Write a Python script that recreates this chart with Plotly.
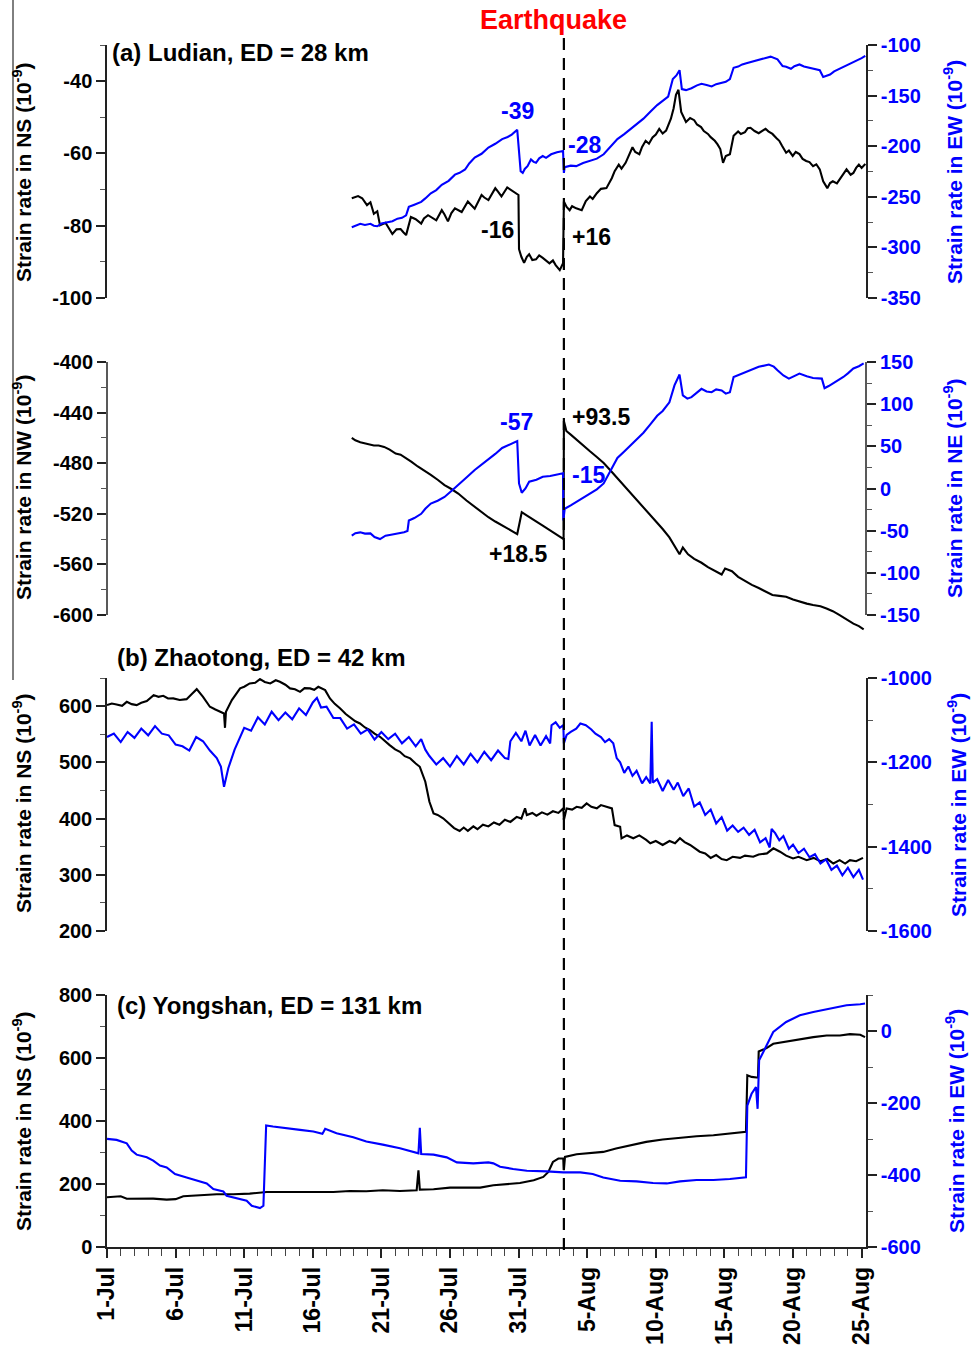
import pandas as pd
import plotly.graph_objects as go

BASE = pd.Timestamp("2014-07-01")
QUAKE_DAY = 33.3          # days after 1-Jul (3-Aug)
X_END_DAY = 55.32

# ---- tick labels ----
a1_left_ticks = [-100, -80, -60, -40]
a1_right_ticks = [-350, -300, -250, -200, -150, -100]
a2_left_ticks = [-600, -560, -520, -480, -440, -400]
a2_right_ticks = [-150, -100, -50, 0, 50, 100, 150]
b_left_ticks = [200, 300, 400, 500, 600]
b_right_ticks = [-1600, -1400, -1200, -1000]
c_left_ticks = [0, 200, 400, 600, 800]
c_right_ticks = [-600, -400, -200, 0]

# ---- data: (days after 1-Jul, strain rate) ----
ludian_ns = [(17.84,-72.4),(18.3,-71.8),(18.6,-72.4),(18.95,-74.3),(19.2,-73.5),(19.45,-76.7),(19.7,-76.0),(19.9,-79.9),
    (20.3,-79.2),(20.8,-82.3),(21.1,-81.0),(21.4,-80.9),(21.6,-81.8),(21.8,-82.6),(22.15,-77.6),(22.5,-78.2),(22.9,-79.4),
    (23.1,-78.0),(23.4,-77.1),(23.7,-77.8),(24.0,-78.5),(24.4,-75.7),(24.6,-76.9),(24.85,-78.8),(25.1,-76.5),(25.36,-75.2),
    (25.6,-75.8),(25.85,-76.2),(26.3,-73.3),(26.5,-74.1),(26.8,-75.3),(27.3,-71.5),(27.5,-72.2),(27.8,-72.9),(28.3,-69.6),
    (28.5,-70.6),(28.75,-71.9),(29.17,-69.4),(29.4,-70.0),(29.66,-70.6),(29.99,-71.5),(30.03,-86.5),(30.2,-88.6),(30.4,-90.3),
    (30.6,-88.6),(30.77,-87.9),(31.0,-89.5),(31.27,-89.3),(31.5,-88.2),(31.76,-88.9),(32.0,-89.6),(32.25,-90.4),(32.5,-89.6),
    (32.7,-90.9),(33.0,-92.3),(33.24,-90.4),(33.3,-73.3),(33.5,-74.8),(33.72,-75.7),(33.9,-74.6),(34.2,-75.2),(34.6,-75.7),
    (34.9,-73.2),(35.2,-71.9),(35.4,-72.6),(35.7,-71.0),(36.0,-69.8),(36.4,-69.6),(36.8,-66.8),(37.0,-64.9),(37.3,-63.1),
    (37.5,-64.2),(37.8,-62.6),(38.0,-61.0),(38.3,-58.3),(38.5,-59.6),(38.8,-60.2),(39.0,-58.2),(39.26,-56.5),(39.5,-57.3),
    (39.76,-55.6),(40.0,-54.8),(40.25,-53.2),(40.5,-54.5),(40.75,-53.7),(41.1,-50.4),(41.3,-47.5),(41.47,-43.8),
    (41.65,-42.4),(41.85,-48.5),(42.0,-49.8),(42.2,-51.3),(42.5,-50.2),(42.8,-50.8),(43.0,-52.0),(43.3,-52.7),(43.5,-53.8),
    (43.8,-54.6),(44.0,-55.5),(44.3,-56.5),(44.5,-57.5),(44.7,-58.8),(44.9,-62.6),(45.1,-60.7),(45.4,-60.2),(45.67,-55.1),
    (46.0,-53.9),(46.2,-54.6),(46.5,-54.1),(46.7,-53.0),(46.9,-52.9),(47.2,-53.8),(47.5,-54.4),(47.8,-53.6),(48.0,-53.2),
    (48.2,-53.9),(48.5,-54.6),(48.8,-55.8),(49.0,-56.5),(49.2,-57.9),(49.5,-59.8),(49.7,-59.2),(49.98,-60.7),(50.2,-59.6),
    (50.47,-60.2),(50.7,-61.5),(50.96,-62.1),(51.2,-62.4),(51.46,-63.5),(51.7,-63.0),(51.95,-64.4),(52.2,-67.7),(52.5,-69.6),
    (52.7,-68.2),(52.9,-67.7),(53.2,-68.3),(53.4,-67.3),(53.7,-65.5),(53.9,-64.4),(54.2,-65.9),(54.4,-65.4),(54.6,-64.0),
    (54.8,-63.1),(55.0,-64.0),(55.27,-62.9)]

ludian_ew = [(17.84,-280.1),(18.1,-278.5),(18.46,-276.7),(18.8,-277.8),(19.2,-276.7),(19.45,-278.6),(19.7,-279.1),
    (20.0,-276.4),(20.4,-275.0),(20.8,-274.1),(21.17,-271.6),(21.5,-270.8),(21.8,-268.4),(22.0,-259.9),(22.4,-257.8),
    (22.9,-255.0),(23.2,-251.6),(23.6,-246.5),(24.0,-243.4),(24.4,-238.2),(24.9,-234.2),(25.36,-228.1),(25.7,-226.3),
    (26.1,-223.0),(26.4,-217.1),(26.8,-211.3),(27.3,-207.5),(27.8,-201.3),(28.3,-197.6),(28.8,-193.0),(29.2,-190.9),
    (29.5,-188.6),(29.9,-183.8),(30.15,-224.8),(30.3,-226.4),(30.45,-222.5),(30.65,-219.7),(30.9,-213.1),(31.1,-215.5),
    (31.27,-216.4),(31.5,-212.0),(31.76,-209.7),(32.0,-211.5),(32.37,-208.0),(32.8,-206.0),(33.24,-204.7),(33.3,-226.4),
    (33.36,-220.7),(33.8,-219.2),(34.2,-219.7),(34.7,-216.6),(35.2,-214.7),(35.7,-212.3),(36.2,-208.0),(36.7,-200.5),
    (37.2,-193.0),(37.7,-188.1),(38.2,-182.8),(38.6,-178.2),(39.1,-172.8),(39.6,-166.0),(40.1,-159.4),(40.5,-155.2),
    (40.9,-151.0),(41.24,-133.6),(41.5,-130.1),(41.73,-124.9),(41.9,-143.6),(42.2,-144.6),(42.6,-142.7),(43.0,-139.9),
    (43.33,-138.3),(43.7,-139.5),(44.07,-141.0),(44.4,-138.7),(44.8,-137.6),(45.1,-136.4),(45.4,-133.6),(45.67,-122.5),
    (46.0,-121.3),(46.3,-119.2),(46.6,-118.0),(46.9,-116.9),(47.2,-115.8),(47.6,-114.2),(48.0,-112.7),(48.37,-111.5),
    (48.87,-114.2),(49.05,-117.5),(49.24,-120.9),(49.5,-121.5),(49.85,-123.5),(50.1,-121.0),(50.47,-119.2),
    (50.8,-121.3),(51.2,-122.5),(51.6,-123.3),(51.95,-124.9),(52.2,-131.6),(52.4,-130.4),(52.7,-129.2),(53.0,-126.0),
    (53.4,-123.5),(53.8,-120.4),(54.16,-118.2),(54.4,-116.8),(54.65,-115.9),(55.0,-113.0),(55.27,-110.8)]

ludian_nw = [(17.84,-459.9),(18.1,-461.9),(18.46,-463.4),(18.9,-464.8),(19.45,-466.0),(19.8,-466.0),(20.2,-467.1),
    (20.6,-469.3),(21.04,-472.4),(21.4,-473.3),(21.8,-475.9),(22.2,-479.0),(22.65,-482.6),(23.1,-485.6),(23.6,-489.2),
    (24.1,-493.1),(24.6,-497.3),(25.1,-500.4),(25.6,-504.0),(26.2,-509.5),(26.8,-514.6),(27.3,-518.8),(27.8,-522.7),
    (28.3,-526.1),(28.8,-529.3),(29.4,-532.8),(29.9,-536.0),(30.03,-529.3),(30.23,-518.7),(30.5,-520.6),(30.77,-522.7),
    (31.3,-526.2),(31.76,-529.3),(32.3,-533.0),(32.74,-536.0),(33.28,-540.0),(33.3,-446.6),(33.48,-454.5),(33.8,-457.4),
    (34.2,-461.3),(34.7,-465.8),(35.2,-470.6),(35.7,-475.1),(36.2,-479.9),(36.7,-485.8),(37.2,-491.9),(37.7,-498.0),
    (38.2,-504.0),(38.6,-509.0),(39.1,-514.6),(39.6,-520.4),(40.1,-526.6),(40.5,-532.0),(40.99,-538.7),(41.4,-545.6),
    (41.73,-552.0),(41.97,-546.7),(42.35,-552.0),(42.8,-555.6),(43.33,-558.7),(43.8,-562.2),(44.3,-565.4),(44.8,-568.0),
    (45.05,-563.2),(45.55,-565.4),(46.0,-569.8),(46.53,-573.4),(47.0,-576.2),(47.5,-578.7),(48.0,-581.7),(48.5,-584.2),
    (49.0,-584.9),(49.5,-585.5),(50.0,-587.8),(50.47,-589.4),(51.0,-591.0),(51.46,-592.1),(52.0,-593.0),(52.44,-594.8),
    (52.9,-597.0),(53.4,-600.1),(53.9,-603.6),(54.4,-606.8),(54.8,-608.8),(55.15,-611.3)]

ludian_ne = [(17.84,-56.0),(18.1,-53.0),(18.46,-52.0),(18.8,-53.5),(19.2,-53.2),(19.5,-57.5),(19.9,-60.0),(20.3,-56.0),
    (20.7,-54.8),(21.2,-53.5),(21.65,-52.0),(21.9,-50.5),(22.0,-38.0),(22.4,-35.0),(22.9,-30.0),(23.2,-24.0),(23.6,-17.9),
    (24.1,-14.5),(24.6,-10.0),(25.1,-3.0),(25.6,4.0),(26.2,13.0),(26.8,22.0),(27.3,28.0),(27.8,34.1),(28.3,41.0),
    (28.8,48.1),(29.4,52.0),(29.9,56.2),(30.03,6.0),(30.23,-5.1),(30.5,0.1),(30.77,8.0),(31.3,10.5),(31.76,14.0),
    (32.3,14.8),(32.74,16.0),(33.24,18.1),(33.26,-38.0),(33.36,-24.0),(33.8,-20.0),(34.2,-16.0),(34.7,-11.5),(35.2,-6.0),
    (35.7,-1.0),(36.2,6.0),(36.7,22.0),(37.2,36.2),(37.7,44.0),(38.2,52.2),(38.6,58.0),(39.1,66.2),(39.6,76.0),
    (40.1,86.2),(40.5,92.0),(40.99,102.2),(41.36,122.3),(41.73,135.1),(41.97,110.3),(42.3,106.5),(42.6,108.3),
    (43.0,113.5),(43.33,118.2),(43.7,115.0),(44.07,114.2),(44.4,117.5),(44.8,116.2),(45.1,112.5),(45.4,114.2),
    (45.67,132.2),(46.1,135.0),(46.53,138.3),(47.0,140.5),(47.5,144.3),(48.24,147.0),(48.6,144.5),(48.87,140.3),
    (49.3,134.0),(49.7,130.3),(50.1,133.5),(50.47,136.2),(51.0,133.0),(51.46,131.0),(52.1,130.3),(52.3,119.0),
    (52.6,121.5),(52.9,124.3),(53.3,128.0),(53.67,132.2),(54.0,136.5),(54.4,142.3),(54.8,145.0),(55.15,148.3)]

zhaotong_ns = [(0.0,601.8),(0.35,604.5),(0.7,603.0),(1.1,600.5),(1.44,607.6),(1.8,603.5),(2.16,601.8),(2.5,606.0),
    (2.9,608.9),(3.4,619.6),(3.75,616.5),(4.1,618.3),(4.45,613.5),(4.83,613.7),(5.3,611.0),(5.8,612.4),(6.2,622.0),
    (6.54,630.2),(7.0,616.5),(7.5,598.8),(7.9,594.0),(8.24,589.9),(8.53,587.0),(8.6,561.4),(8.67,589.9),(9.1,610.7),
    (9.4,622.0),(9.7,631.5),(10.0,634.5),(10.4,640.4),(10.8,641.5),(11.15,648.0),(11.5,643.0),(11.9,640.4),(12.3,646.0),
    (12.6,643.3),(13.0,638.0),(13.34,631.5),(13.7,630.0),(14.07,625.4),(14.4,632.0),(14.8,631.5),(15.1,629.0),
    (15.4,634.3),(15.9,628.4),(16.25,613.7),(16.6,604.0),(17.0,595.9),(17.4,586.0),(17.7,581.0),(18.1,573.0),
    (18.44,569.2),(18.8,562.0),(19.17,557.3),(19.5,551.0),(19.9,545.4),(20.3,536.0),(20.6,530.7),(21.0,523.0),
    (21.35,518.8),(21.7,511.0),(22.1,507.0),(22.5,498.0),(22.8,492.1),(23.2,465.5),(23.5,429.9),(23.8,409.2),
    (24.1,406.5),(24.5,400.4),(25.0,388.4),(25.3,383.0),(25.7,377.8),(26.0,384.0),(26.3,378.0),(26.7,386.0),(27.0,381.0),
    (27.4,389.0),(27.8,386.0),(28.2,393.0),(28.6,389.0),(29.0,398.0),(29.4,394.0),(29.86,403.0),(30.2,400.0),(30.47,418.1),
    (30.6,406.2),(31.0,410.0),(31.3,405.0),(31.7,411.0),(32.1,407.0),(32.5,413.0),(32.9,410.0),(33.26,418.1),(33.3,397.3),
    (33.5,418.1),(33.9,416.0),(34.23,421.0),(34.6,419.0),(34.96,426.9),(35.3,421.0),(35.7,418.1),(36.0,424.0),(36.4,421.0),
    (36.8,418.1),(37.0,388.4),(37.4,385.5),(37.5,364.8),(37.9,370.0),(38.36,365.0),(38.8,370.0),(39.3,362.0),(39.6,356.0),
    (40.0,360.0),(40.5,353.0),(41.0,360.0),(41.4,356.0),(41.76,365.0),(42.1,358.0),(42.5,353.0),(42.9,346.0),(43.2,341.0),
    (43.6,338.0),(44.0,330.0),(44.4,335.0),(44.8,328.0),(45.17,326.0),(45.6,332.0),(46.14,330.0),(46.5,334.0),(47.1,332.0),
    (47.5,336.0),(48.1,338.0),(48.57,347.0),(49.05,341.0),(49.5,334.0),(50.0,329.0),(50.4,332.0),(51.0,326.0),(51.5,330.0),
    (52.0,324.0),(52.5,328.0),(52.94,320.0),(53.4,326.0),(53.8,320.0),(54.15,326.0),(54.6,324.0),(55.1,330.0)]

zhaotong_ew = [(0.0,-1140),(0.5,-1132),(1.0,-1152),(1.5,-1128),(2.0,-1142),(2.5,-1120),(3.0,-1136),(3.5,-1114),
    (4.0,-1132),(4.5,-1136),(5.0,-1158),(5.5,-1162),(6.0,-1172),(6.5,-1140),(7.0,-1150),(7.5,-1172),(8.0,-1190),
    (8.3,-1210),(8.53,-1258),(8.84,-1214),(9.3,-1170),(9.7,-1140),(10.0,-1118),(10.5,-1125),(11.0,-1093),(11.5,-1110),
    (12.0,-1080),(12.5,-1100),(13.0,-1082),(13.5,-1098),(14.0,-1072),(14.5,-1088),(15.0,-1058),(15.3,-1047),(15.6,-1070),
    (16.0,-1068),(16.5,-1095),(17.0,-1095),(17.5,-1120),(18.0,-1110),(18.5,-1132),(19.0,-1122),(19.5,-1146),(20.0,-1128),
    (20.5,-1145),(21.0,-1132),(21.5,-1155),(22.0,-1140),(22.5,-1162),(22.9,-1145),(23.2,-1170),(23.5,-1185),(24.0,-1205),
    (24.5,-1190),(25.0,-1210),(25.5,-1185),(26.0,-1205),(26.5,-1180),(27.0,-1200),(27.5,-1175),(28.0,-1195),(28.5,-1172),
    (29.0,-1190),(29.25,-1192),(29.4,-1150),(29.8,-1130),(30.2,-1150),(30.5,-1125),(30.8,-1160),(31.2,-1135),(31.6,-1160),
    (32.0,-1138),(32.3,-1155),(32.4,-1112),(32.7,-1105),(33.0,-1118),(33.26,-1112),(33.3,-1155),(33.5,-1135),(33.8,-1128),
    (34.2,-1120),(34.5,-1108),(34.9,-1112),(35.3,-1122),(35.6,-1132),(36.0,-1140),(36.3,-1152),(36.6,-1145),(36.9,-1155),
    (37.15,-1190),(37.4,-1200),(37.7,-1225),(38.0,-1210),(38.3,-1232),(38.6,-1220),(39.0,-1250),(39.3,-1235),(39.6,-1250),
    (39.7,-1104),(39.78,-1248),(40.1,-1240),(40.5,-1268),(40.9,-1242),(41.3,-1265),(41.6,-1248),(42.0,-1280),(42.4,-1262),
    (42.8,-1305),(43.2,-1295),(43.6,-1325),(44.0,-1312),(44.4,-1345),(44.8,-1330),(45.2,-1362),(45.6,-1350),(46.0,-1365),
    (46.4,-1355),(46.8,-1372),(47.2,-1360),(47.6,-1390),(48.0,-1380),(48.3,-1402),(48.44,-1358),(48.7,-1368),(49.0,-1385),
    (49.3,-1375),(49.7,-1405),(50.0,-1395),(50.4,-1415),(50.8,-1405),(51.2,-1425),(51.6,-1418),(52.0,-1440),(52.4,-1430),
    (52.8,-1455),(53.2,-1445),(53.6,-1468),(54.0,-1450),(54.4,-1472),(54.8,-1455),(55.1,-1478)]

yongshan_ns = [(0.0,157.7),(0.7,159.8),(1.0,161.0),(1.44,153.3),(2.4,153.6),(3.37,153.6),(4.35,150.4),(5.0,152.0),
    (5.56,160.9),(6.78,164.0),(8.0,167.3),(9.2,167.3),(10.4,169.5),(11.64,174.6),(12.85,174.6),(14.07,176.8),(15.3,176.8),
    (16.5,174.6),(17.7,177.9),(18.9,176.8),(20.1,180.0),(21.35,177.9),(22.57,180.0),(22.7,243.5),(22.8,182.0),(23.8,183.2),
    (25.0,188.5),(26.2,188.5),(27.2,188.5),(28.16,195.9),(29.1,199.0),(30.1,203.3),(31.1,211.9),(31.8,222.4),
    (32.17,238.3),(32.5,270.0),(32.9,280.8),(33.26,280.8),(33.3,243.6),(33.38,286.0),(34.23,294.6),(35.2,298.7),
    (36.17,301.9),(37.1,312.7),(38.1,323.2),(39.3,333.7),(40.5,341.3),(41.76,347.6),(42.97,351.7),(44.2,354.9),
    (45.4,360.3),(46.57,365.4),(46.67,545.3),(46.98,540.0),(47.35,538.0),(47.45,538.0),(47.5,620.6),(48.07,631.4),
    (48.56,645.0),(49.5,652.4),(50.5,660.0),(51.48,666.3),(52.45,671.4),(53.42,671.4),(54.15,675.8),(54.9,673.6),
    (55.25,666.3)]

yongshan_ew = [(0.0,-299.7),(0.7,-302.5),(1.44,-312.0),(1.8,-332.3),(2.16,-343.5),(2.9,-351.0),(3.37,-360.2),
    (3.86,-374.0),(4.35,-378.8),(4.96,-397.2),(5.8,-406.7),(6.54,-414.0),(7.27,-423.3),(7.75,-439.0),(8.48,-445.7),
    (8.72,-457.6),(9.45,-464.0),(10.18,-471.6),(10.55,-485.5),(11.15,-492.0),(11.4,-485.5),(11.6,-262.7),
    (12.1,-265.5),(13.1,-269.1),(14.07,-274.7),(15.04,-279.4),(15.7,-285.8),(15.9,-271.9),(16.73,-284.1),
    (17.95,-295.3),(18.9,-307.2),(20.1,-315.6),(21.35,-325.9),(22.7,-339.8),(22.8,-269.1),(22.9,-341.5),
    (23.8,-343.5),(24.76,-351.0),(25.5,-364.9),(26.7,-367.7),(27.8,-364.9),(28.16,-367.7),(28.65,-376.9),
    (29.6,-383.3),(30.6,-388.0),(32.05,-390.0),(33.26,-392.8),(34.5,-392.8),(35.4,-397.2),(36.17,-406.7),
    (37.4,-415.9),(38.6,-417.8),(39.8,-422.3),(40.8,-423.4),(41.76,-417.8),(42.97,-414.0),(44.2,-414.0),
    (45.4,-411.1),(46.57,-406.7),(46.67,-207.0),(46.98,-174.4),(47.3,-156.0),(47.42,-216.2),(47.53,-81.6),
    (48.07,-39.8),(48.56,-2.8),(49.5,25.0),(50.5,43.7),(51.48,52.9),(52.7,62.4),(53.9,71.6),(54.9,74.4),
    (55.25,76.3)]

# ---- style ----
FONT = "Liberation Sans, Arial, Helvetica, sans-serif"
BLACK = "#000000"
BLUE = "#0000FF"
RED = "#FF0000"
AXC = "#222222"

def xy(pairs):
    return ([BASE + pd.Timedelta(days=d) for d, _ in pairs], [v for _, v in pairs])

fig = go.Figure()
series = [
    (ludian_ew, "y2", BLUE), (ludian_ns, "y", BLACK),
    (ludian_ne, "y4", BLUE), (ludian_nw, "y3", BLACK),
    (zhaotong_ew, "y6", BLUE), (zhaotong_ns, "y5", BLACK),
    (yongshan_ew, "y8", BLUE), (yongshan_ns, "y7", BLACK),
]
for pairs, yax, col in series:
    x, y = xy(pairs)
    fig.add_trace(go.Scatter(x=x, y=y, mode="lines", xaxis="x", yaxis=yax,
                             line=dict(color=col, width=2.1), showlegend=False, hoverinfo="skip"))

H = 1356.0
def py(px):
    return 1 - px / H
def pxp(px):
    return (px - 107) / 759.0

# panel a2: data runs a little below the -600 axis end, so the plot area is extended
A2_EXTRA = 16  # px below the axis end
domains = {
    "a1": [py(298), py(45)],
    "a2": [py(615 + A2_EXTRA), py(362)],
    "b": [py(931), py(678)],
    "c": [py(1247), py(995)],
}

def yaxis(domain, rng, ticks, mdtick, side="left", color=BLACK, overlay=None, showline=True):
    d = dict(domain=domain, range=rng, tickmode="array", tickvals=ticks, ticktext=[str(t) for t in ticks],
             anchor="x", side=side,
             showgrid=False, zeroline=False, showline=showline, linecolor=AXC, linewidth=1.5,
             ticks="outside", ticklen=9, tickwidth=1.5, tickcolor=AXC,
             tickfont=dict(family=FONT, size=20, color=color, weight="bold"),
             minor=dict(tickmode="linear", tick0=ticks[0], dtick=mdtick, ticks="outside", ticklen=5,
                        tickwidth=1, tickcolor="#555555"),
             automargin=False, fixedrange=True)
    if overlay:
        d["overlaying"] = overlay
    return d

a2_left_range = [-600 - A2_EXTRA / (253 / 200), -400]
a2_right_range = [-150 - A2_EXTRA / (253 / 300), 150]

fig.update_layout(
    width=973, height=1356,
    margin=dict(l=107, r=107, t=0, b=0),
    paper_bgcolor="white", plot_bgcolor="rgba(0,0,0,0)",
    showlegend=False,
    xaxis=dict(domain=[0, 1], anchor="y7", type="date",
               range=[BASE, BASE + pd.Timedelta(days=X_END_DAY)],
               tick0=BASE, dtick=5 * 86400000, tickformat="%-d-%b", tickangle=-90,
               showgrid=False, zeroline=False, showline=True, linecolor=AXC, linewidth=1.5,
               ticks="outside", ticklen=9, tickwidth=1.5, tickcolor=AXC,
               tickfont=dict(family=FONT, size=23, color=BLACK, weight="bold"),
               minor=dict(dtick=86400000, ticks="outside", ticklen=7, tickwidth=1, tickcolor="#444444"),
               automargin=False, fixedrange=True),
    yaxis=yaxis(domains["a1"], [-100, -30], a1_left_ticks, 10),
    yaxis2=yaxis(domains["a1"], [-350, -100], a1_right_ticks, 25, "right", BLUE, "y"),
    yaxis3=yaxis(domains["a2"], a2_left_range, a2_left_ticks, 20, showline=False),
    yaxis4=yaxis(domains["a2"], a2_right_range, a2_right_ticks, 25, "right", BLUE, "y3", showline=False),
    yaxis5=yaxis(domains["b"], [200, 650], b_left_ticks, 50),
    yaxis6=yaxis(domains["b"], [-1600, -1000], b_right_ticks, 100, "right", BLUE, "y5"),
    yaxis7=yaxis(domains["c"], [0, 800], c_left_ticks, 100),
    yaxis8=yaxis(domains["c"], [-600, 100], c_right_ticks, 100, "right", BLUE, "y7"),
)

ann = []
def add_text(text, x, y, size, color, angle=0, xanchor="center"):
    ann.append(dict(text=text, x=x, y=y, xref="paper", yref="paper", showarrow=False,
                    textangle=angle, xanchor=xanchor, yanchor="middle",
                    font=dict(family=FONT, size=size, color=color, weight="bold")))

sup = "<sup>-9</sup>"
add_text("Strain rate in NS (10" + sup + ")", pxp(22), py(172), 21, BLACK, -90)
add_text("Strain rate in EW (10" + sup + ")", pxp(953), py(172), 21, BLUE, -90)
add_text("Strain rate in NW (10" + sup + ")", pxp(22), py(488), 21, BLACK, -90)
add_text("Strain rate in NE (10" + sup + ")", pxp(953), py(488), 21, BLUE, -90)
add_text("Strain rate in NS (10" + sup + ")", pxp(22), py(803), 21, BLACK, -90)
add_text("Strain rate in EW (10" + sup + ")", pxp(957), py(805), 21, BLUE, -90)
add_text("Strain rate in NS (10" + sup + ")", pxp(22), py(1121), 21, BLACK, -90)
add_text("Strain rate in EW (10" + sup + ")", pxp(955), py(1121), 21, BLUE, -90)

add_text("(a) Ludian, ED = 28 km", pxp(110), py(53), 24, BLACK, 0, "left")
add_text("(b) Zhaotong, ED = 42 km", pxp(115), py(657), 24, BLACK, 0, "left")
add_text("(c) Yongshan, ED = 131 km", pxp(115), py(1005), 24, BLACK, 0, "left")
add_text("Earthquake", pxp(553), py(20), 27, RED)

add_text("-39", pxp(517), py(111), 23, BLUE)
add_text("-28", pxp(584), py(145), 23, BLUE)
add_text("-16", pxp(497), py(230), 23, BLACK)
add_text("+16", pxp(591), py(237), 23, BLACK)
add_text("-57", pxp(516), py(422), 23, BLUE)
add_text("-15", pxp(588), py(475), 23, BLUE)
add_text("+93.5", pxp(601), py(417), 23, BLACK)
add_text("+18.5", pxp(518), py(554), 23, BLACK)
fig.update_layout(annotations=ann)

quake = BASE + pd.Timedelta(days=QUAKE_DAY)
fig.add_shape(type="line", xref="x", yref="paper", x0=quake, x1=quake, y0=py(1250), y1=py(37),
              line=dict(color=BLACK, width=2.2, dash="12px,8px"))
# axis lines of panel a2 (they end at the -600 / -150 ticks)
fig.add_shape(type="line", xref="paper", yref="y3", x0=0, x1=0, y0=-600, y1=-400,
              line=dict(color=AXC, width=1.5))
fig.add_shape(type="line", xref="paper", yref="y3", x0=1, x1=1, y0=-600, y1=-400,
              line=dict(color=AXC, width=1.5))
# thin frame line at the left edge of the figure
fig.add_shape(type="line", xref="paper", yref="paper", x0=pxp(13), x1=pxp(13), y0=py(680), y1=1,
              line=dict(color=BLACK, width=1))

fig.write_html("out.html", config={"displayModeBar": False},
               post_script="document.body.style.margin='0';")
